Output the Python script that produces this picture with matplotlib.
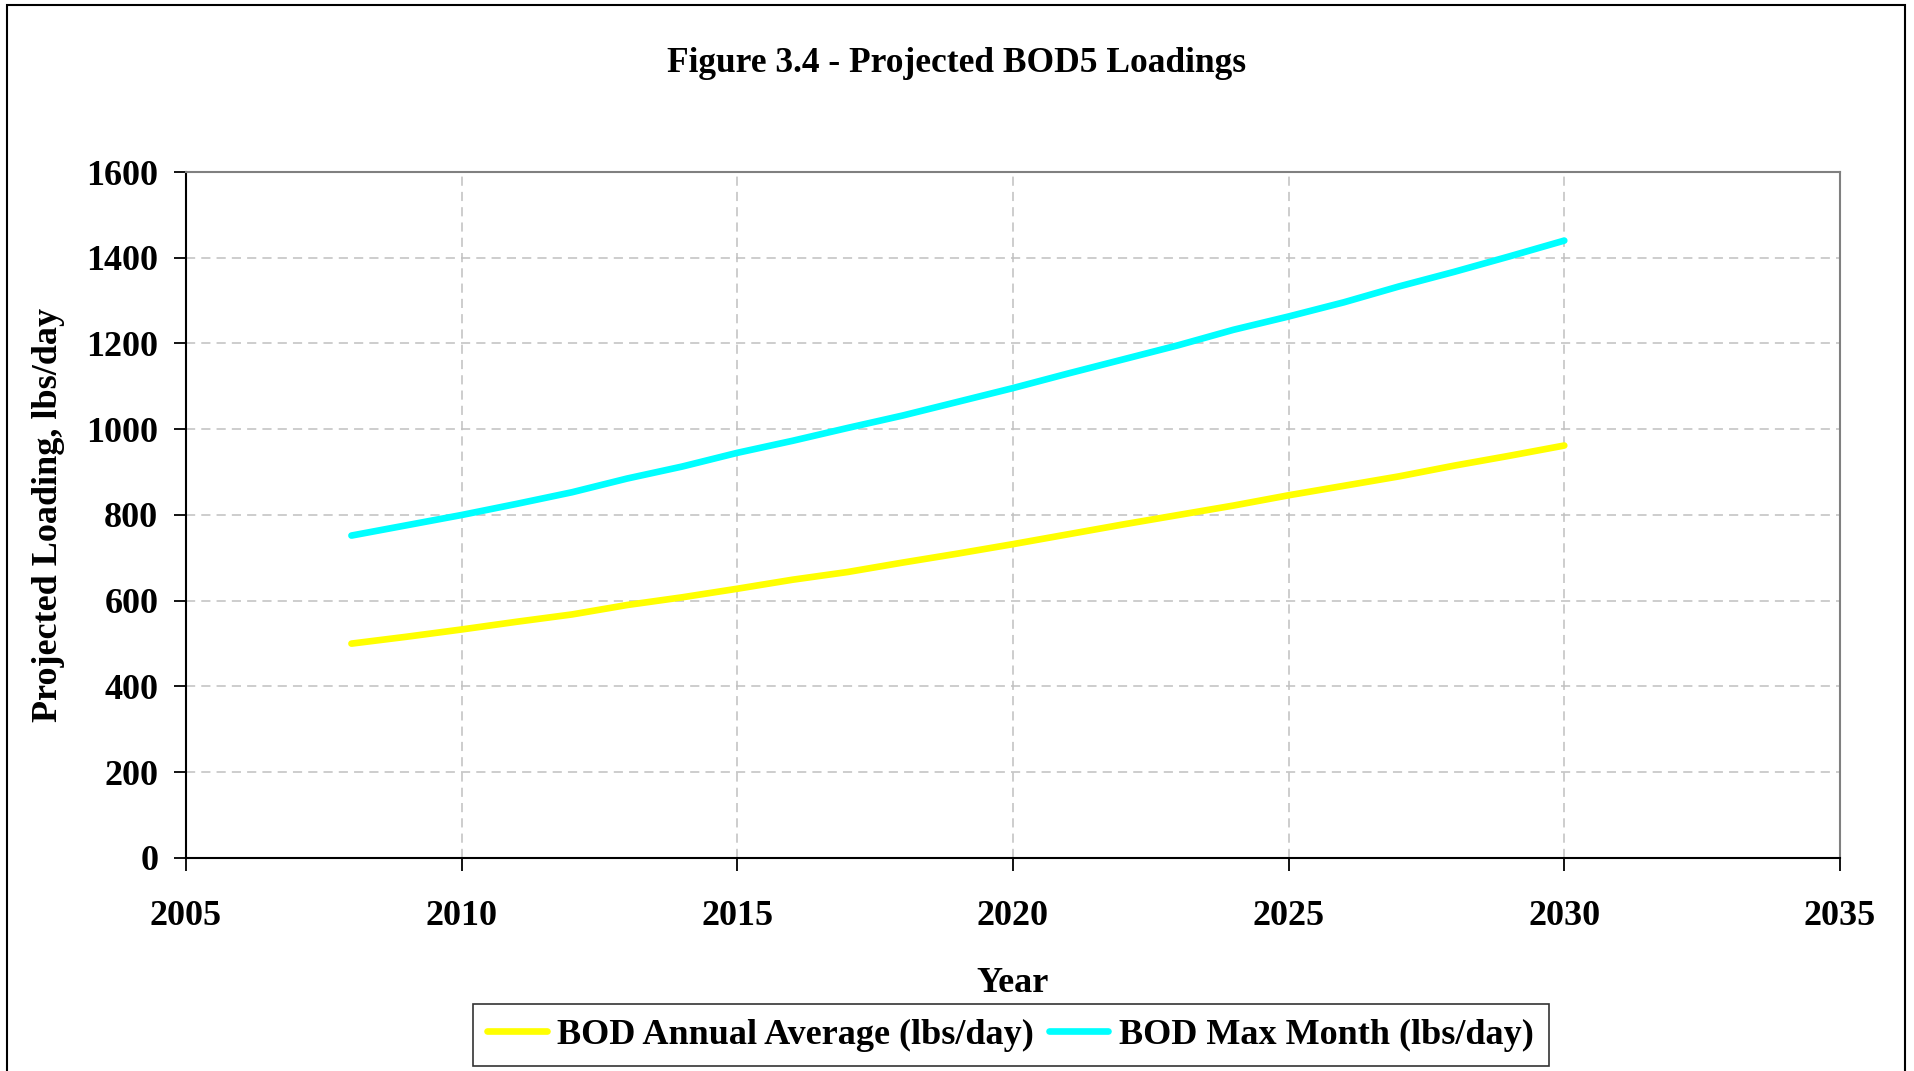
import matplotlib
matplotlib.use("Agg")
import matplotlib.pyplot as plt
from matplotlib.patches import Rectangle

# ---------------------------------------------------------------- datos
years = [2008, 2009, 2010, 2011, 2012, 2013, 2014, 2015, 2016, 2017, 2018,
         2019, 2020, 2021, 2022, 2023, 2024, 2025, 2026, 2027, 2028, 2029, 2030]
annual_avg = [500, 516, 533, 551, 568, 590, 608, 628, 649, 667, 689,
              710, 732, 755, 778, 800, 822, 846, 868, 890, 915, 938, 962]
max_month = [752, 776, 800, 826, 853, 885, 913, 945, 973, 1003, 1032,
             1064, 1096, 1130, 1163, 1196, 1232, 1263, 1296, 1333, 1367, 1403, 1440]
x_ticks = [2005, 2010, 2015, 2020, 2025, 2030, 2035]
y_ticks = [0, 200, 400, 600, 800, 1000, 1200, 1400, 1600]

# ---------------------------------------------------------------- estilo
plt.rcParams.update({
    "font.family": ["Liberation Serif", "DejaVu Serif"],
    "font.weight": "bold",
})

fig = plt.figure(figsize=(19.14, 10.71), dpi=100)
ax = fig.add_axes([0.0972, 0.1989, 0.8641, 0.6405])

ax.plot(years, annual_avg, color="#ffff00", linewidth=4.8,
        solid_capstyle="round", label="BOD Annual Average (lbs/day)", zorder=3)
ax.plot(years, max_month, color="#00ffff", linewidth=4.8,
        solid_capstyle="round", label="BOD Max Month (lbs/day)", zorder=3)

ax.set_xlim(2005, 2035)
ax.set_ylim(0, 1600)
ax.set_xticks(x_ticks)
ax.set_yticks(y_ticks)
ax.tick_params(axis="both", labelsize=26, length=9, width=1.3, direction="out",
               color="#000000")
ax.tick_params(axis="x", pad=21)
ax.tick_params(axis="y", pad=11)
for lbl in ax.get_xticklabels() + ax.get_yticklabels():
    lbl.set_fontweight("bold")

ax.grid(True, color="#c0c0c0", linestyle=(0, (6, 4)), linewidth=1.1, zorder=0)
ax.set_axisbelow(True)

ax.spines["left"].set_color("#000000")
ax.spines["bottom"].set_color("#000000")
ax.spines["top"].set_color("#808080")
ax.spines["right"].set_color("#808080")
for s in ax.spines.values():
    s.set_linewidth(1.5)

ax.set_xlabel("Year", fontsize=26, fontweight="bold", labelpad=25)
ax.set_ylabel("Projected Loading, lbs/day", fontsize=26, fontweight="bold",
              labelpad=15)

fig.text(0.5, 0.941, "Figure 3.4 - Projected BOD5 Loadings", ha="center",
         va="center", fontsize=25.5, fontweight="bold")

leg = fig.legend(loc="center", bbox_to_anchor=(0.528, 0.0336), ncols=2,
                 fontsize=26, frameon=True, fancybox=False, handlelength=1.65,
                 handletextpad=0.3, columnspacing=0.4, borderpad=0.4,
                 borderaxespad=0, edgecolor="#000000")
leg.get_frame().set_linewidth(1.2)
for txt in leg.get_texts():
    txt.set_fontweight("bold")

# marco exterior de la figura
fig.patches.append(Rectangle((0.0037, -0.05), 0.9915, 1.0453,
                             transform=fig.transFigure, fill=False,
                             edgecolor="#000000", linewidth=1.5))

fig.savefig("out.png", dpi=100)
